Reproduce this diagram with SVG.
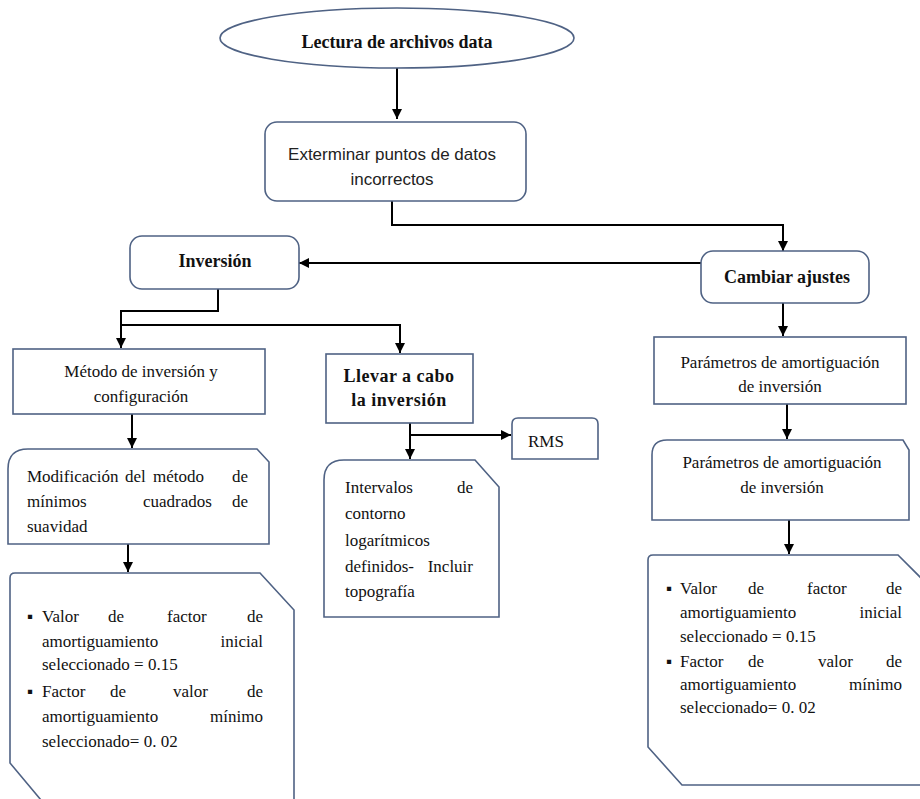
<svg xmlns="http://www.w3.org/2000/svg" width="920" height="799" viewBox="0 0 920 799">
<style>
.box{fill:#fff;stroke:#4f6284;stroke-width:1.6}
.con{fill:none;stroke:#000;stroke-width:2}
.t{font-family:"Liberation Serif","Times New Roman",serif;font-size:17px;fill:#111}
.b{font-family:"Liberation Serif","Times New Roman",serif;font-size:18px;font-weight:bold;fill:#111}
.s{font-family:"Liberation Sans",Arial,sans-serif;font-size:17px;fill:#222}
.m{text-anchor:middle}
.e{text-anchor:end}
</style>
<defs>
<marker id="arr" viewBox="0 0 10 10" refX="10" refY="5" markerWidth="5" markerHeight="5" orient="auto" markerUnits="strokeWidth">
<path d="M0,0 L10,5 L0,10 Z" fill="#000"/>
</marker>
</defs>
<rect width="920" height="799" fill="#fff"/>

<g id="connectors">
<path class="con" d="M397,68 V119" marker-end="url(#arr)"/>
<path class="con" d="M392,201 V225 H783 V251" marker-end="url(#arr)"/>
<path class="con" d="M701,263 H299" marker-end="url(#arr)"/>
<path class="con" d="M218,289 V311 H121 V348" marker-end="url(#arr)"/>
<path class="con" d="M121,325 H400 V353" marker-end="url(#arr)"/>
<path class="con" d="M783,303 V336" marker-end="url(#arr)"/>
<path class="con" d="M787,404 V439" marker-end="url(#arr)"/>
<path class="con" d="M132,414 V448" marker-end="url(#arr)"/>
<path class="con" d="M410,423 V459" marker-end="url(#arr)"/>
<path class="con" d="M410,435 H511" marker-end="url(#arr)"/>
<path class="con" d="M128,544 V572" marker-end="url(#arr)"/>
<path class="con" d="M789,520 V554" marker-end="url(#arr)"/>
</g>

<g id="lectura">
<ellipse class="box" cx="397" cy="38" rx="177" ry="30"/>
<text class="b m" x="397" y="48" font-size="19">Lectura de archivos data</text>
</g>

<g id="exterminar">
<rect class="box" x="265" y="122" width="261" height="79" rx="12"/>
<text class="s m" x="392" y="160">Exterminar puntos de datos</text>
<text class="s m" x="392" y="185">incorrectos</text>
</g>

<g id="inversion">
<rect class="box" x="130" y="236" width="169" height="53" rx="12"/>
<text class="b m" x="215" y="267">Inversión</text>
</g>

<g id="cambiar">
<rect class="box" x="701" y="251" width="168" height="52" rx="12"/>
<text class="b m" x="787" y="283">Cambiar ajustes</text>
</g>

<g id="metodo">
<rect class="box" x="13" y="349" width="252" height="65"/>
<text class="t m" x="141" y="377">Método de inversión y</text>
<text class="t m" x="141" y="402">configuración</text>
</g>

<g id="llevar">
<rect class="box" x="326" y="354" width="147" height="69"/>
<text class="b m" x="399" y="382" letter-spacing="0.5">Llevar a cabo</text>
<text class="b m" x="399" y="406" letter-spacing="0.5">la inversión</text>
</g>

<g id="rms">
<path class="box" d="M512,459 V424 Q512,418 518,418 H592 Q598,418 598,424 V459 Z"/>
<text class="t" x="528" y="447">RMS</text>
</g>

<g id="intervalos">
<path class="box" d="M324,617 V480 Q324,460 344,460 H475 L499,487 V617 Z"/>
<text class="t" x="345" y="493">Intervalos</text>
<text class="t e" x="473" y="493">de</text>
<text class="t" x="345" y="519">contorno</text>
<text class="t" x="345" y="546">logarítmicos</text>
<text class="t" x="345" y="572">definidos-</text>
<text class="t e" x="473" y="572">Incluir</text>
<text class="t" x="345" y="597">topografía</text>
</g>

<g id="modificacion">
<path class="box" d="M8,544 V469 Q8,449 28,449 H257 L269,462 V544 Z"/>
<text class="t" x="27" y="482">Modificación</text>
<text class="t" x="125" y="482">del</text>
<text class="t" x="153" y="482">método</text>
<text class="t e" x="248" y="482">de</text>
<text class="t" x="27" y="507">mínimos</text>
<text class="t" x="143" y="507">cuadrados</text>
<text class="t e" x="248" y="507">de</text>
<text class="t" x="27" y="532">suavidad</text>
</g>

<g id="valores-izq">
<path class="box" d="M46,806 L10,763 V578 Q10,573 15,573 H260 L294,610 V806"/>
<text class="t" x="27" y="622" font-size="13">▪</text>
<text class="t" x="42" y="622">Valor</text>
<text class="t" x="108" y="622">de</text>
<text class="t" x="167" y="622">factor</text>
<text class="t e" x="263" y="622">de</text>
<text class="t" x="42" y="647">amortiguamiento</text>
<text class="t e" x="263" y="647">inicial</text>
<text class="t" x="42" y="670">seleccionado = 0.15</text>
<text class="t" x="27" y="697" font-size="13">▪</text>
<text class="t" x="42" y="697">Factor</text>
<text class="t" x="110" y="697">de</text>
<text class="t" x="173" y="697">valor</text>
<text class="t e" x="263" y="697">de</text>
<text class="t" x="42" y="722">amortiguamiento</text>
<text class="t e" x="263" y="722">mínimo</text>
<text class="t" x="42" y="747">seleccionado= 0. 02</text>
</g>

<g id="parametros1">
<rect class="box" x="654" y="337" width="252" height="67"/>
<text class="t m" x="780" y="368">Parámetros de amortiguación</text>
<text class="t m" x="780" y="392">de inversión</text>
</g>

<g id="parametros2">
<path class="box" d="M652,520 V455 Q652,440 667,440 H903 L909,450 V520 Z"/>
<text class="t m" x="782" y="468">Parámetros de amortiguación</text>
<text class="t m" x="782" y="493">de inversión</text>
</g>

<g id="valores-der">
<path class="box" d="M930,785 H682 L648,747 V560 Q648,555 653,555 H898 L928,585"/>
<text class="t" x="666" y="594" font-size="13">▪</text>
<text class="t" x="680" y="594">Valor</text>
<text class="t" x="748" y="594">de</text>
<text class="t" x="807" y="594">factor</text>
<text class="t e" x="902" y="594">de</text>
<text class="t" x="680" y="618">amortiguamiento</text>
<text class="t e" x="902" y="618">inicial</text>
<text class="t" x="680" y="642">seleccionado = 0.15</text>
<text class="t" x="666" y="667" font-size="13">▪</text>
<text class="t" x="680" y="667">Factor</text>
<text class="t" x="748" y="667">de</text>
<text class="t" x="818" y="667">valor</text>
<text class="t e" x="902" y="667">de</text>
<text class="t" x="680" y="690">amortiguamiento</text>
<text class="t e" x="902" y="690">mínimo</text>
<text class="t" x="680" y="713">seleccionado= 0. 02</text>
</g>
</svg>
